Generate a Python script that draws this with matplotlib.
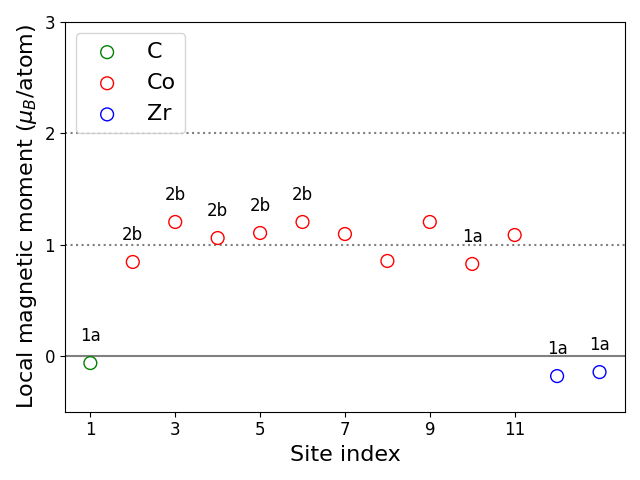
import matplotlib
matplotlib.use('Agg')
import matplotlib.pyplot as plt

# Local magnetic moments per site
c_sites = [1]
c_moments = [-0.063]
co_sites = [2, 3, 4, 5, 6, 7, 8, 9, 10, 11]
co_moments = [0.845, 1.204, 1.06, 1.105, 1.204, 1.096, 0.854, 1.204, 0.827, 1.087]
zr_sites = [12, 13]
zr_moments = [-0.18, -0.144]

# Wyckoff labels (site index -> label)
label_sites = [1, 2, 3, 4, 5, 6, 10, 12, 13]
labels = ['1a', '2b', '2b', '2b', '2b', '2b', '1a', '1a', '1a']

all_sites = c_sites + co_sites + zr_sites
all_moments = c_moments + co_moments + zr_moments

fig, ax = plt.subplots(figsize=(6.4, 4.8), dpi=100)

ax.axhline(0, color='grey', lw=1.5, zorder=1)
ax.axhline(1, color='grey', lw=1.5, ls=':', zorder=1)
ax.axhline(2, color='grey', lw=1.5, ls=':', zorder=1)

ax.scatter(c_sites, c_moments, s=85, facecolors='none', edgecolors='green', label='C', zorder=2)
ax.scatter(co_sites, co_moments, s=85, facecolors='none', edgecolors='red', label='Co', zorder=2)
ax.scatter(zr_sites, zr_moments, s=85, facecolors='none', edgecolors='blue', label='Zr', zorder=2)

for site, lab in zip(label_sites, labels):
    y = all_moments[all_sites.index(site)]
    ax.text(site, y + 0.24, lab, ha='center', va='center', fontsize=12)

ax.set_ylim(-0.5, 3)
ax.set_xticks([1, 3, 5, 7, 9, 11])
ax.set_yticks([0, 1, 2, 3])
ax.tick_params(labelsize=12)
ax.set_xlabel('Site index', fontsize=16)
ax.set_ylabel(r'Local magnetic moment ($\mu_B$/atom)', fontsize=16)
ax.legend(loc='upper left', fontsize=16)

fig.tight_layout()
fig.savefig('out.png')
